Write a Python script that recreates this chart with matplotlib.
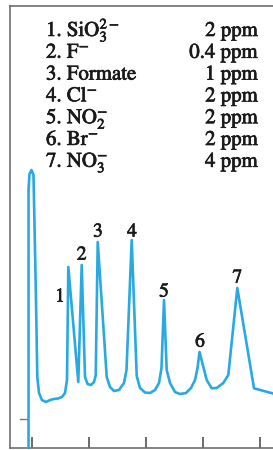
import matplotlib
matplotlib.use("Agg")
import matplotlib.pyplot as plt
import matplotlib.patheffects as pe

plt.rcParams["font.family"] = ["STIXGeneral", "DejaVu Serif"]
plt.rcParams["mathtext.fontset"] = "stix"

W, H = 273, 450

# ion chromatogram trace, time in min vs detector signal (arb. units)
time = [-0.061, -0.061, -0.044, -0.009, 0.026, 0.035, 0.070, 0.093, 0.123,
        0.175, 0.246, 0.316, 0.386, 0.456, 0.526, 0.579, 0.614, 0.637,
        0.812, 0.872, 0.930, 0.974, 1.035, 1.088, 1.118, 1.153, 1.311,
        1.368, 1.439, 1.526, 1.614, 1.658, 1.749, 1.837, 1.895, 1.982,
        2.070, 2.158, 2.228, 2.272, 2.316, 2.363, 2.421, 2.509, 2.596,
        2.702, 2.789, 2.860, 2.904, 2.939, 3.065, 3.153, 3.240, 3.356,
        3.444, 3.602, 3.895, 4.263]
signal = [0.0, 25.8, 27.4, 27.8, 27.3, 24.8, 14.8, 7.1, 5.5,
          4.8, 4.6, 4.8, 4.9, 4.95, 5.1, 5.5, 6.8, 18.1,
          6.6, 18.3, 7.1, 6.4, 6.3, 6.6, 7.3, 20.6, 7.1,
          6.1, 5.7, 5.8, 6.5, 7.8, 20.8, 7.2, 6.0, 5.55,
          5.5, 5.8, 6.5, 8.0, 14.8, 7.8, 6.5, 5.6, 5.4,
          5.5, 6.0, 6.8, 8.0, 9.6, 6.8, 5.97, 6.0, 6.5,
          7.3, 16.0, 5.97, 5.4]

peak_labels = ["1", "2", "3", "4", "5", "6", "7"]
label_x = [0.491, 0.872, 1.158, 1.754, 2.316, 2.947, 3.602]
label_y = [15.1, 19.3, 21.6, 21.6, 15.6, 10.6, 17.0]

ions = [r"1. SiO$_3^{2-}$", r"2. F$^{-}$", "3. Formate", r"4. Cl$^{-}$",
        r"5. NO$_2^{-}$", r"6. Br$^{-}$", r"7. NO$_3^{-}$"]
conc = ["2 ppm", "0.4 ppm", "1 ppm", "2 ppm", "2 ppm", "2 ppm", "4 ppm"]

time_ticks = [0, 1, 2, 3, 4]
baseline_mark = 2.9

fig = plt.figure(figsize=(W / 100, H / 100), dpi=100)
left, right, top, bottom = 9.5, 273, 6, 448
ax = fig.add_axes([left / W, (H - bottom) / H, (right - left) / W, (bottom - top) / H])
ax.set_xlim((left - 32) / 57, (right - 32) / 57)
ax.set_ylim(0, (bottom - top) / 10)

ax.plot(time, signal, color="#29a9e1", lw=1.9, solid_joinstyle="round",
        solid_capstyle="round", clip_on=False, zorder=3)
ax.plot([-0.21, -0.075], [baseline_mark, baseline_mark], color="#777777", lw=1.0)

heavy = [pe.withStroke(linewidth=0.5, foreground="#1a1a1a")]

for lab, x, y in zip(peak_labels, label_x, label_y):
    ax.text(x, y, lab, ha="center", va="center", fontsize=14, color="#1a1a1a",
            path_effects=heavy)

for s in ["left", "top", "bottom"]:
    ax.spines[s].set_color("#6e6e6e")
    ax.spines[s].set_linewidth(1.2)
ax.spines["right"].set_visible(False)
ax.set_xticks(time_ticks)
ax.set_xticklabels([])
ax.set_yticks([])
ax.tick_params(axis="x", direction="in", length=8, width=1.1, color="#444444")

for i, (ion, c) in enumerate(zip(ions, conc)):
    yb = 1 - (36 + 21.8 * i) / H
    fig.text(46 / W, yb, ion, ha="left", va="baseline", fontsize=15,
             color="#1a1a1a", path_effects=heavy)
    fig.text(258 / W, yb, c, ha="right", va="baseline", fontsize=15,
             color="#1a1a1a", path_effects=heavy)

fig.savefig("out.png", dpi=100)
